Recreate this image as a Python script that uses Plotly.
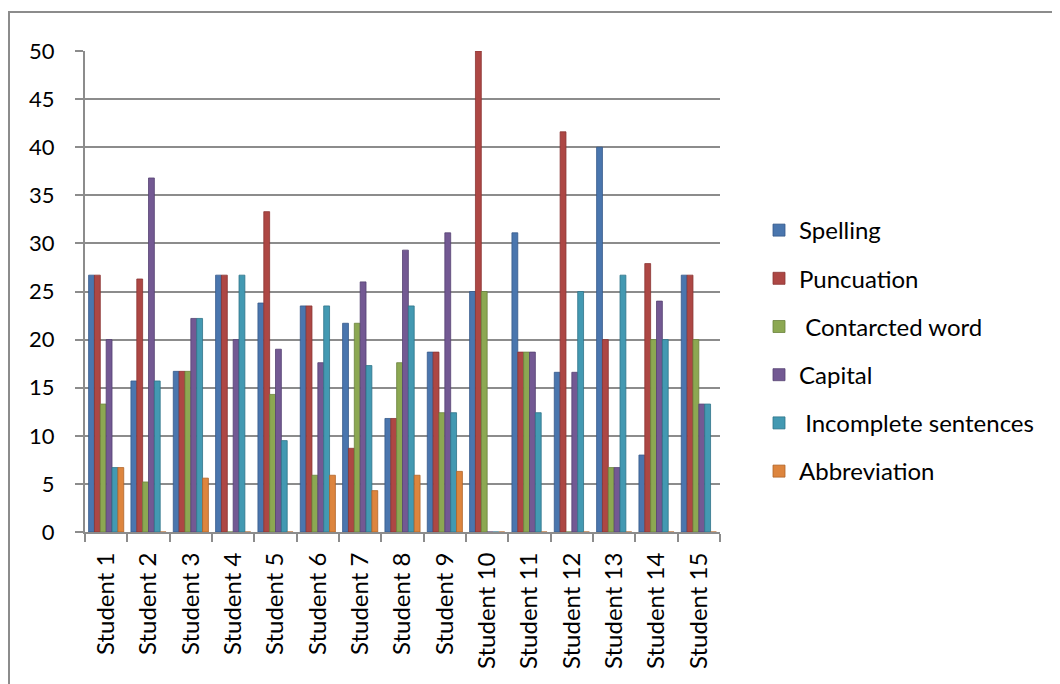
import plotly.graph_objects as go

students = [f"Student {i}" for i in range(1, 16)]
spelling = [26.7, 15.7, 16.7, 26.7, 23.8, 23.5, 21.7, 11.8, 18.7, 25.0, 31.1, 16.6, 40.0, 8.0, 26.7]
punctuation = [26.7, 26.3, 16.7, 26.7, 33.3, 23.5, 8.7, 11.8, 18.7, 50.0, 18.7, 41.6, 20.0, 27.9, 26.7]
contracted = [13.3, 5.2, 16.7, 0, 14.3, 5.9, 21.7, 17.6, 12.4, 25.0, 18.7, 0, 6.7, 20.0, 20.0]
capital = [20.0, 36.8, 22.2, 20.0, 19.0, 17.6, 26.0, 29.3, 31.1, 0, 18.7, 16.6, 6.7, 24.0, 13.3]
incomplete = [6.7, 15.7, 22.2, 26.7, 9.5, 23.5, 17.3, 23.5, 12.4, 0, 12.4, 25.0, 26.7, 20.0, 13.3]
abbreviation = [6.7, 0, 5.6, 0, 0, 5.9, 4.3, 5.9, 6.3, 0, 0, 0, 0, 0, 0]

series = [
    ("Spelling", spelling, "#4A76AE", "#36598A"),
    ("Puncuation", punctuation, "#AD4744", "#8A3533"),
    (" Contarcted word", contracted, "#8CA852", "#6B833C"),
    ("Capital", capital, "#735993", "#564272"),
    (" Incomplete sentences", incomplete, "#4399B2", "#2F7489"),
    ("Abbreviation", abbreviation, "#DD853E", "#B0652A"),
]

fig = go.Figure()
for i, (name, vals, col, edge) in enumerate(series):
    fig.add_trace(go.Bar(
        x=students, y=vals, name=name, legendgroup=f"g{i}",
        marker=dict(color=col, line=dict(color=edge, width=0.8)),
    ))

# the page adds an 8px body margin, so figure coords = page coords - 8
W, H = 1052, 676
L, R, T, B = 77, 712, 43, 524
pw, ph = R - L, B - T

def px_x(x):
    return (x - L) / pw

def px_y(y):
    return (B - y) / ph

fig.update_layout(
    width=W, height=H,
    margin=dict(l=L, r=W - R, t=T, b=H - B, autoexpand=False),
    paper_bgcolor="white", plot_bgcolor="white",
    barmode="group", bargap=0.17, bargroupgap=0,
    font=dict(family="Lato, 'Open Sans', sans-serif", size=22, color="black"),
    showlegend=True,
    legend=dict(
        x=px_x(751), y=px_y(200), xanchor="left", yanchor="top",
        font=dict(size=24), tracegroupgap=14, itemwidth=30,
        bgcolor="rgba(0,0,0,0)",
    ),
    xaxis=dict(
        type="category", tickangle=-90, tickson="boundaries",
        ticks="outside", ticklen=8, tickcolor="#8c8c8c", tickwidth=2,
        showline=True, linecolor="#8c8c8c", linewidth=2,
        showgrid=False, tickfont=dict(size=24), ticklabelstandoff=9,
    ),
    yaxis=dict(
        range=[0, 50], dtick=5, tick0=0,
        ticks="outside", ticklen=8, tickcolor="#8c8c8c", tickwidth=2,
        showline=True, linecolor="#8c8c8c", linewidth=2,
        showgrid=True, gridcolor="#8c8c8c", gridwidth=2,
        zeroline=False, tickfont=dict(size=22), ticklabelstandoff=16,
    ),
)

fig.add_shape(
    type="rect", xref="paper", yref="paper",
    x0=px_x(1), x1=px_x(1060), y0=px_y(680), y1=px_y(4),
    line=dict(color="#8c8c8c", width=2), fillcolor="rgba(0,0,0,0)", layer="below",
)

fig.write_html("out.html")
